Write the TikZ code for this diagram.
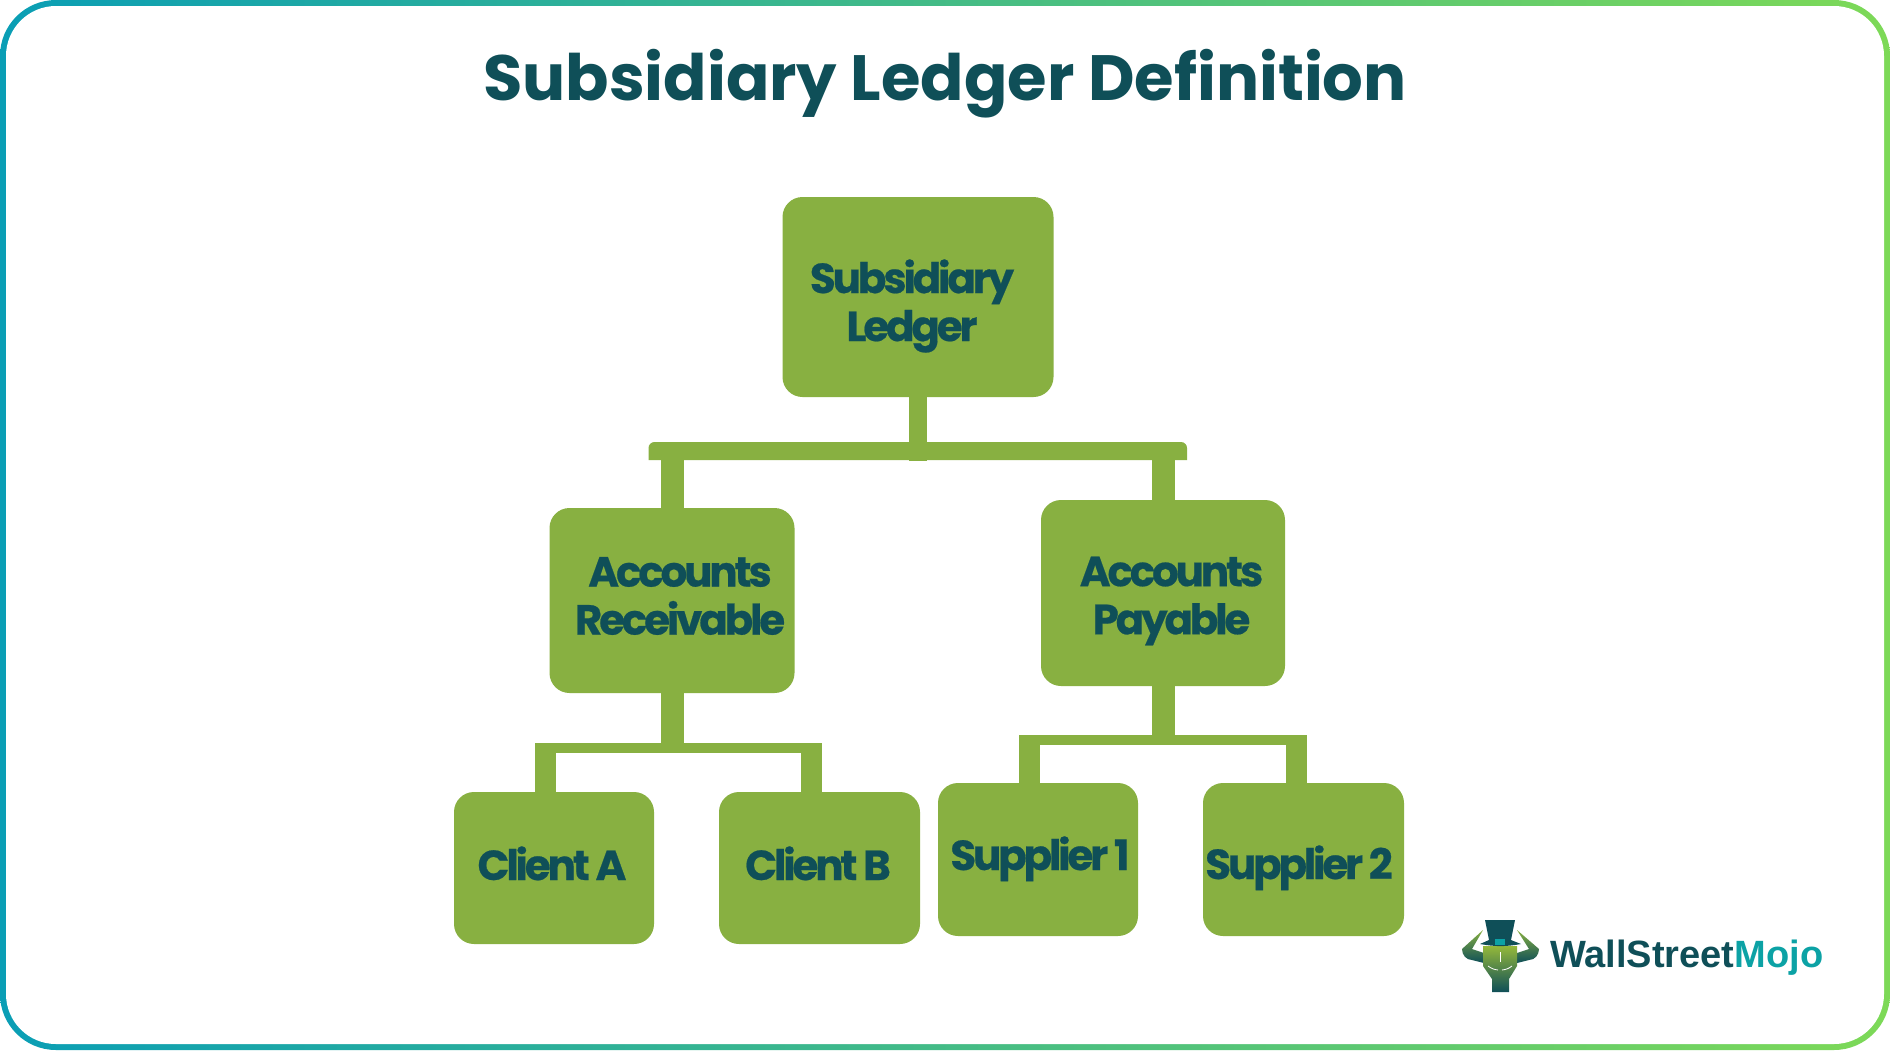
\documentclass[tikz,border=0pt]{standalone}
\usepackage{fontspec}
\setmainfont{Poppins}
\newfontfamily\boxfont{Poppins}[LetterSpace=-7.5,BoldFeatures={FakeBold=0.5}]
\newfontfamily\logofont{Liberation Sans}
\usetikzlibrary{calc}
\definecolor{myteal}{RGB}{10,158,181}
\definecolor{mylime}{RGB}{125,217,87}
\definecolor{mygreen}{RGB}{136,176,65}
\definecolor{mydark}{RGB}{15,79,88}
\definecolor{mymojo}{RGB}{12,162,165}
\tikzset{
  ledgerbox/.style={fill=mygreen,rounded corners=20,inner sep=0},
  ledgertext/.style={font=\boxfont\bfseries\fontsize{42}{48}\selectfont,text=mydark,align=center,inner sep=0},
  stem/.style={draw=mygreen,line width=23},
  drop/.style={draw=mygreen,line width=21},
  crossbar/.style={draw=mygreen,line width=10},
}
\begin{document}
\begin{tikzpicture}[x=1pt,y=-1pt]
  \useasboundingbox (0,0) rectangle (1890,1050);

  % frame
  \shade[left color=myteal,right color=mylime,rounded corners=56]
    (0,0) rectangle (1890,1050);
  \fill[white,rounded corners=50]
    (6,6) rectangle (1884,1044);

  % title
  \node[font=\bfseries\fontsize{64}{70}\selectfont,text=mydark,inner sep=0,anchor=base] (title)
    at (945,100) {Subsidiary Ledger Definition};

  % boxes
  \node[ledgerbox,minimum width=271,minimum height=200] (root) at (918,297) {};
  \node[ledgerbox,minimum width=245,minimum height=185] (ar) at (672,600.5) {};
  \node[ledgerbox,minimum width=244,minimum height=186] (ap) at (1163,593) {};
  \node[ledgerbox,minimum width=200,minimum height=152] (ca) at (554,868) {};
  \node[ledgerbox,minimum width=201,minimum height=152] (cb) at (819.5,868) {};
  \node[ledgerbox,minimum width=200,minimum height=153] (sa) at (1038,859.5) {};
  \node[ledgerbox,minimum width=201,minimum height=153] (sb) at (1303.5,859.5) {};

  % labels
  \node[ledgertext] (roottext) at (912,306) {Subsidiary\\Ledger};
  \node[ledgertext] (artext) at (680,596) {Accounts\\Receivable};
  \node[ledgertext] (aptext) at (1171.5,601) {Accounts\\Payable};
  \node[ledgertext,anchor=base] (catext) at (552,880) {Client A};
  \node[ledgertext,anchor=base] (cbtext) at (818,880) {Client B};
  \node[ledgertext,anchor=base] (satext) at (1040,870) {Supplier 1};
  \node[ledgertext,anchor=base] (sbtext) at (1299,879) {Supplier 2};

  % top connectors
  \coordinate (rootbar) at (918,461);
  \fill[mygreen]
    (648.5,460) [rounded corners=6] -- (648.5,442) -- (1187,442)
    [sharp corners] -- (1187,460) -- cycle;
  \draw[draw=mygreen,line width=18.5] (root.south) -- (rootbar);
  \draw[stem] (ar.north) -- ($(ar.north)+(0,-50)$);
  \draw[stem] (ap.north) -- ($(ap.north)+(0,-42)$);

  % left connectors
  \coordinate (arbar) at (672,748);
  \coordinate (catop) at (545.5,792);
  \coordinate (cbtop) at (811.5,792);
  \draw[stem] (ar.south) -- (arbar);
  \draw[crossbar] (535,748) -- (822,748);
  \draw[drop] (catop) -- (catop |- 0,743);
  \draw[drop] (cbtop) -- (cbtop |- 0,743);

  % right connectors
  \coordinate (apbar) at (1163,739.5);
  \coordinate (satop) at (1029,783);
  \coordinate (sbtop) at (1296,783);
  \draw[stem] (ap.south) -- (apbar);
  \draw[crossbar] (1019,739.5) -- (1306,739.5);
  \draw[drop] (satop) -- (satop |- 0,735);
  \draw[drop] (sbtop) -- (sbtop |- 0,735);

  % logo
  \shade[top color=mygreen,bottom color=mydark]
    (1483,930) -- (1462,949) to[out=270,in=180] (1472,960) -- (1484,963) -- (1484,953) -- (1472,949) -- cycle;
  \shade[top color=mygreen,bottom color=mydark]
    (1517,930) -- (1539,949) to[out=270,in=0] (1529,960) -- (1517,963) -- (1517,953) -- (1529,949) -- cycle;
  \shade[top color=mygreen!90!yellow,middle color=mygreen,bottom color=mydark]
    (1483,946) -- (1517,946) -- (1517,966) -- (1509,979) -- (1509,992) -- (1492,992) -- (1492,979) -- (1483,966) -- cycle;
  \draw[white,line width=0.8] (1488,966) to[bend right=15] (1498,970);
  \draw[white,line width=0.8] (1502,970) to[bend right=15] (1512,966);
  \draw[white,line width=0.5] (1500,952) -- (1500,962);
  \fill[mydark]
    (1485,920) -- (1515,920) -- (1511,940) -- (1521,944) to[bend left=10] (1480,944) -- (1489,940) -- cycle;
  \fill[mymojo] (1495,939) rectangle (1505,945);
  \node[font=\logofont\bfseries\fontsize{38}{40}\selectfont,text=mydark,inner sep=0,anchor=base west] (logotext)
    at (1550,967) {WallStreet\textcolor{mymojo}{Mojo}};
\end{tikzpicture}
\end{document}
